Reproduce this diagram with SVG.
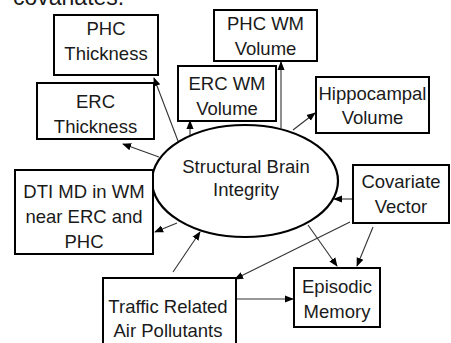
<svg xmlns="http://www.w3.org/2000/svg" width="451" height="343" viewBox="0 0 451 343">
  <style>
    .box { fill: #fff; stroke: #000; stroke-width: 2; }
    .oval { fill: #fff; stroke: #000; stroke-width: 2.2; }
    .lbl { font-family: "Liberation Sans", Arial, sans-serif; font-size: 18.5px; fill: #1a1a1a; text-anchor: middle; }
    .edge { stroke: #333; stroke-width: 1.1; fill: none; marker-end: url(#arr); }
  </style>
  <defs>
    <marker id="arr" viewBox="0 0 10 10" refX="9" refY="5" markerWidth="9" markerHeight="9" markerUnits="userSpaceOnUse" orient="auto">
      <path d="M0,1 L10,5 L0,9 Z" fill="#000"/>
    </marker>
  </defs>
  <rect width="451" height="343" fill="#fff"/>
  <text x="13" y="5" style="font-family:'Liberation Sans',Arial,sans-serif;font-size:23px;fill:#1a1a1a">covariates.</text>

  <g id="connectors">
    <line class="edge" x1="178" y1="141" x2="154" y2="78"/>
    <line class="edge" x1="159" y1="157" x2="123" y2="144"/>
    <line class="edge" x1="190" y1="135" x2="190" y2="121"/>
    <line class="edge" x1="281" y1="128" x2="281" y2="62"/>
    <line class="edge" x1="293" y1="130" x2="315" y2="113"/>
    <line class="edge" x1="177" y1="223" x2="155" y2="232"/>
    <line class="edge" x1="173" y1="272" x2="200" y2="232"/>
    <line class="edge" x1="353" y1="199" x2="334" y2="199"/>
    <line class="edge" x1="350" y1="222" x2="235" y2="279"/>
    <line class="edge" x1="373" y1="227" x2="357" y2="266"/>
    <line class="edge" x1="308" y1="225" x2="337" y2="266"/>
    <line class="edge" x1="236" y1="299" x2="293" y2="299"/>
  </g>

  <g id="phc-thickness">
    <rect class="box" x="54" y="15" width="104" height="60"/>
    <text class="lbl" x="106" y="35">PHC</text>
    <text class="lbl" x="106" y="60">Thickness</text>
  </g>
  <g id="erc-thickness">
    <rect class="box" x="37" y="83" width="117" height="56"/>
    <text class="lbl" x="95.5" y="108">ERC</text>
    <text class="lbl" x="95.5" y="133">Thickness</text>
  </g>
  <g id="phc-wm-volume">
    <rect class="box" x="214" y="10" width="103" height="51"/>
    <text class="lbl" x="265.5" y="30">PHC WM</text>
    <text class="lbl" x="265.5" y="55">Volume</text>
  </g>
  <g id="erc-wm-volume">
    <rect class="box" x="178" y="66" width="98" height="55"/>
    <text class="lbl" x="227" y="90">ERC WM</text>
    <text class="lbl" x="227" y="115">Volume</text>
  </g>
  <g id="hippocampal-volume">
    <rect class="box" x="316" y="77" width="113" height="56"/>
    <text class="lbl" x="372.5" y="100">Hippocampal</text>
    <text class="lbl" x="372.5" y="124">Volume</text>
  </g>
  <g id="structural-brain-integrity">
    <ellipse class="oval" cx="245" cy="181" rx="93" ry="56"/>
    <text class="lbl" x="246" y="173">Structural Brain</text>
    <text class="lbl" x="246" y="196">Integrity</text>
  </g>
  <g id="dti-md">
    <rect class="box" x="15" y="170" width="138" height="84"/>
    <text class="lbl" x="84" y="198">DTI MD in WM</text>
    <text class="lbl" x="84" y="223">near ERC and</text>
    <text class="lbl" x="84" y="248">PHC</text>
  </g>
  <g id="covariate-vector">
    <rect class="box" x="353" y="165" width="96" height="58"/>
    <text class="lbl" x="401" y="188">Covariate</text>
    <text class="lbl" x="401" y="213">Vector</text>
  </g>
  <g id="episodic-memory">
    <rect class="box" x="294" y="268" width="86" height="59"/>
    <text class="lbl" x="337" y="293">Episodic</text>
    <text class="lbl" x="337" y="318">Memory</text>
  </g>
  <g id="traffic-pollutants">
    <rect class="box" x="103" y="278" width="133" height="70"/>
    <text class="lbl" x="168" y="313">Traffic Related</text>
    <text class="lbl" x="168" y="337">Air Pollutants</text>
  </g>
</svg>
